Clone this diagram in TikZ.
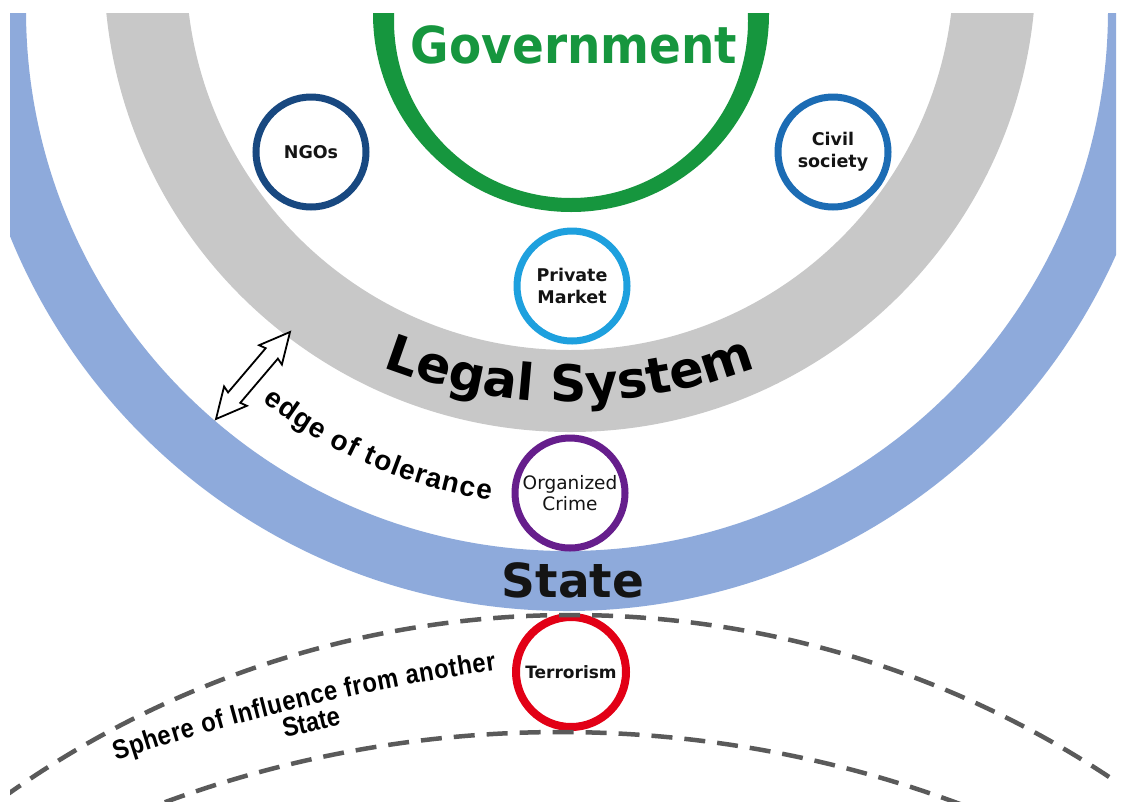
\documentclass[tikz,border=0pt]{standalone}
\usepackage{graphicx}
\usepackage{fontspec}
\setmainfont{DejaVu Sans}
\newfontfamily\arialf{Liberation Sans}
\newfontfamily\arialn{Liberation Sans}[FakeStretch=0.88]
\usetikzlibrary{decorations.text}
\definecolor{stateblue}{RGB}{142,170,219}
\definecolor{legalgray}{RGB}{200,200,200}
\definecolor{govgreen}{RGB}{22,150,62}
\definecolor{ngoblue}{RGB}{24,72,128}
\definecolor{civblue}{RGB}{28,108,180}
\definecolor{pmblue}{RGB}{30,160,222}
\definecolor{ocpurple}{RGB}{102,30,140}
\definecolor{terred}{RGB}{226,0,22}
\definecolor{dashgray}{RGB}{90,90,90}
\definecolor{txt}{RGB}{20,20,20}
\begin{document}
\begin{tikzpicture}[x=1pt,y=-1pt]
\tikzset{
  ring/.style={circle, draw, line width=7pt, fill=white, minimum size=110pt, inner sep=0pt, align=center, text=txt},
  smallbold/.style={font=\fontsize{17.5}{22}\selectfont\bfseries},
  dashline/.style={draw=dashgray, line width=4.5pt, dash pattern=on 21pt off 12pt},
}
\useasboundingbox (0,0) rectangle (1126,801);
\fill[white] (0,0) rectangle (1126,801);
\begin{scope}
\clip (10,13) rectangle (1116,801);
% State band
\fill[stateblue, even odd rule] (567,10) circle[radius=601] (567,10) circle[radius=541];
% Legal system band
\fill[legalgray, even odd rule] (570,-34) circle[radius=466] (570,-34) circle[radius=384];
% Government ring
\fill[govgreen, even odd rule] (571,14) circle[radius=198] (571,21) circle[radius=177];
\node[font=\fontsize{51}{51}\selectfont\bfseries, text=govgreen, anchor=base] (gov) at (574,63) {\scalebox{0.92}[1]{Government}};

% small circles
\node[ring, draw=ngoblue, smallbold] (ngo) at (311,152) {NGOs};
\node[ring, draw=civblue, smallbold] (civ) at (833,152) {Civil\\society};
\node[ring, draw=pmblue, smallbold] (pm) at (572,286) {Private\\Market};
\node[ring, draw=ocpurple, font=\fontsize{18.5}{21}\selectfont] (oc) at (570,493) {Organized\\Crime};
\node[ring, draw=terred, line width=8pt, font=\fontsize{17}{20}\selectfont\bfseries] (ter) at (571,672) {Terrorism};

% texts
\path[decorate, decoration={text along path, text align=fit to path,
  text={|\fontsize{50.5}{50.5}\selectfont\bfseries|Legal System}}]
  (570,-115) ++(111.2:517) arc[start angle=111.2, end angle=68.9, radius=517];
\node[font=\fontsize{47}{47}\selectfont\bfseries, anchor=base, text=txt] (state) at (573,597) {State};

\path[decorate, decoration={text along path, text align=fit to path,
  text={|\arialf\fontsize{28}{28}\selectfont\bfseries|edge of tolerance}}]
  (567,10) ++(127.8:496) arc[start angle=127.8, end angle=98.9, radius=496];

% edge of tolerance arrow
\draw[line width=1.8pt, fill=white, line join=miter]
  (290,332) -- (259.1,345.2) -- (265.7,348.2) -- (228.1,392.4) -- (224.1,386.4)
  -- (216,419) -- (246.9,405.8) -- (240.3,402.8) -- (277.9,358.6) -- (281.9,364.6) -- cycle;

% sphere of influence
\draw[dashline] (571,1590) ++(215:975) arc[start angle=215, end angle=325, radius=975];
\draw[dashline] (560,1877) ++(230:1145) arc[start angle=230, end angle=310, radius=1145];

\path[decorate, decoration={text along path, text align=fit to path,
  text={|\arialn\fontsize{27}{27}\selectfont\bfseries|Sphere of Influence from another}}]
  (803,2800) ++(251.4:2152) arc[start angle=251.4, end angle=261.8, radius=2152];
\node[font=\arialn\fontsize{27}{27}\selectfont\bfseries, rotate=13] (sst) at (311,722) {State};
\end{scope}
\end{tikzpicture}
\end{document}
